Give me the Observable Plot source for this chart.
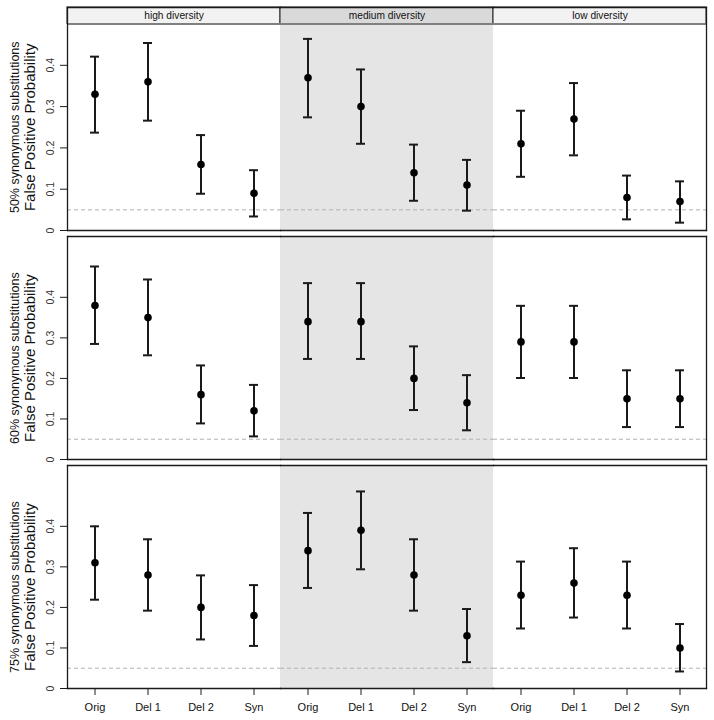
<!DOCTYPE html>
<html>
<head>
<meta charset="utf-8">
<script src="https://cdn.jsdelivr.net/npm/d3@7"></script>
<script src="https://cdn.jsdelivr.net/npm/@observablehq/plot@0.6"></script>
<style>
  body { margin: 0; background: white; }
  #chart svg { display: block; }
</style>
</head>
<body>
<div id="chart"></div>
<script>
const conditions = ["Orig", "Del 1", "Del 2", "Syn"];
const diversity = ["high diversity", "medium diversity", "low diversity"];
const panelLabels = ["50% synonymous substitutions", "60% synonymous substitutions", "75% synonymous substitutions"];
const yLabel = "False Positive Probability";
const yTicks = [0, 0.1, 0.2, 0.3, 0.4];
const yMax = [0.54, 0.55, 0.55];
const headerBottom = 0.5;
const nullLevel = 0.05;
const headerFill = ["#f2f2f2", "#d9d9d9", "#f2f2f2"];

// values ordered: high (Orig, Del 1, Del 2, Syn), medium (...), low (...)
const est50 = [0.33, 0.36, 0.16, 0.09,  0.37, 0.30, 0.14, 0.11,  0.21, 0.27, 0.08, 0.07];
const lo50  = [0.237, 0.266, 0.089, 0.034,  0.274, 0.210, 0.072, 0.048,  0.130, 0.182, 0.027, 0.019];
const hi50  = [0.421, 0.454, 0.231, 0.146,  0.464, 0.390, 0.208, 0.171,  0.290, 0.357, 0.133, 0.119];
const est60 = [0.38, 0.35, 0.16, 0.12,  0.34, 0.34, 0.20, 0.14,  0.29, 0.29, 0.15, 0.15];
const lo60  = [0.285, 0.257, 0.089, 0.057,  0.248, 0.248, 0.122, 0.072,  0.201, 0.201, 0.080, 0.080];
const hi60  = [0.476, 0.444, 0.232, 0.184,  0.435, 0.435, 0.279, 0.208,  0.379, 0.379, 0.220, 0.220];
const est75 = [0.31, 0.28, 0.20, 0.18,  0.34, 0.39, 0.28, 0.13,  0.23, 0.26, 0.23, 0.10];
const lo75  = [0.219, 0.192, 0.121, 0.105,  0.248, 0.294, 0.192, 0.065,  0.148, 0.175, 0.148, 0.042];
const hi75  = [0.400, 0.368, 0.279, 0.255,  0.433, 0.486, 0.368, 0.196,  0.313, 0.346, 0.313, 0.159];

const estimates = [est50, est60, est75];
const lowers = [lo50, lo60, lo75];
const uppers = [hi50, hi60, hi75];

const font = "'Liberation Sans', Arial, Helvetica, sans-serif";
const ink = "#1a1a1a";

function panel(k) {
  const rows = diversity.flatMap((dv, j) => conditions.map((c, i) => ({
    div: dv, cond: c,
    est: estimates[k][j * 4 + i], lo: lowers[k][j * 4 + i], hi: uppers[k][j * 4 + i]
  })));
  const top = yMax[k];
  const isFirst = k === 0, isLast = k === 2;
  const bodyTop = isFirst ? headerBottom : top;
  const heights = [233, 229, 258];
  const marks = [
    Plot.barY(["medium diversity"], {fx: d => d, y1: 0, y2: bodyTop, fill: "#e5e5e5"}),
    Plot.ruleY([nullLevel], {stroke: "#b0b0b0", strokeDasharray: "4,3", strokeWidth: 1}),
    Plot.ruleX(rows, {fx: "div", x: "cond", y1: "lo", y2: "hi", stroke: ink, strokeWidth: 2}),
    Plot.tickY(rows, {fx: "div", x: "cond", y: "lo", stroke: ink, strokeWidth: 2, insetLeft: 22, insetRight: 22}),
    Plot.tickY(rows, {fx: "div", x: "cond", y: "hi", stroke: ink, strokeWidth: 2, insetLeft: 22, insetRight: 22}),
    Plot.dot(rows, {fx: "div", x: "cond", y: "est", r: 3.8, fill: "black", stroke: null}),
    Plot.axisY(yTicks, {tickSize: 7, tickFormat: () => "", label: null, stroke: ink, strokeWidth: 1}),
    Plot.text(yTicks, {y: d => d, text: d => String(d), frameAnchor: "left", textAnchor: "middle",
      rotate: -90, dx: -17, facetAnchor: "left", fontSize: 10.5, fill: "#333"}),
    Plot.text([0.25], {y: d => d, text: () => yLabel, frameAnchor: "left", textAnchor: "middle",
      rotate: -90, dx: -37, facetAnchor: "left", fontSize: 15, fill: "#111"}),
    Plot.text([0.25], {y: d => d, text: () => panelLabels[k], frameAnchor: "left", textAnchor: "middle",
      rotate: -90, dx: -53, facetAnchor: "left", fontSize: 12.5, fill: "#111"})
  ];
  if (isFirst) {
    marks.push(
      Plot.barY(diversity, {fx: d => d, y1: headerBottom, y2: top, fill: (d, i) => headerFill[i],
        stroke: "#222", strokeWidth: 1}),
      Plot.ruleY([headerBottom], {stroke: "#808080", strokeWidth: 2}),
      Plot.text(diversity, {fx: d => d, text: d => d, y: (headerBottom + top) / 2 + 0.001, fontSize: 10.2, fill: "#111"})
    );
  }
  marks.push(
    Plot.frame({anchor: "top", stroke: ink, strokeWidth: 1.3}),
    Plot.frame({anchor: "bottom", stroke: ink, strokeWidth: 1.3}),
    Plot.frame({anchor: "left", facetAnchor: "left", stroke: ink, strokeWidth: 1.3}),
    Plot.frame({anchor: "right", facetAnchor: "right", stroke: ink, strokeWidth: 1.3})
  );
  if (isLast) {
    marks.push(Plot.axisX({tickSize: 7, tickPadding: 8, label: null, fontSize: 11, stroke: ink, fill: "#111"}));
  }
  return Plot.plot({
    width: 714,
    height: heights[k],
    marginLeft: 67,
    marginRight: 8,
    marginTop: isFirst ? 7 : 3,
    marginBottom: isLast ? 32 : 3,
    style: {fontFamily: font, fontSize: "10.5px", background: "white", overflow: "visible"},
    fx: {domain: diversity, padding: 0, axis: null, label: null},
    x: {domain: conditions, padding: 0, axis: null, label: null},
    y: {domain: [0, top], axis: null, label: null},
    marks
  });
}

const chart = document.getElementById("chart");
for (let k = 0; k < 3; k++) chart.appendChild(panel(k));
</script>
</body>
</html>
